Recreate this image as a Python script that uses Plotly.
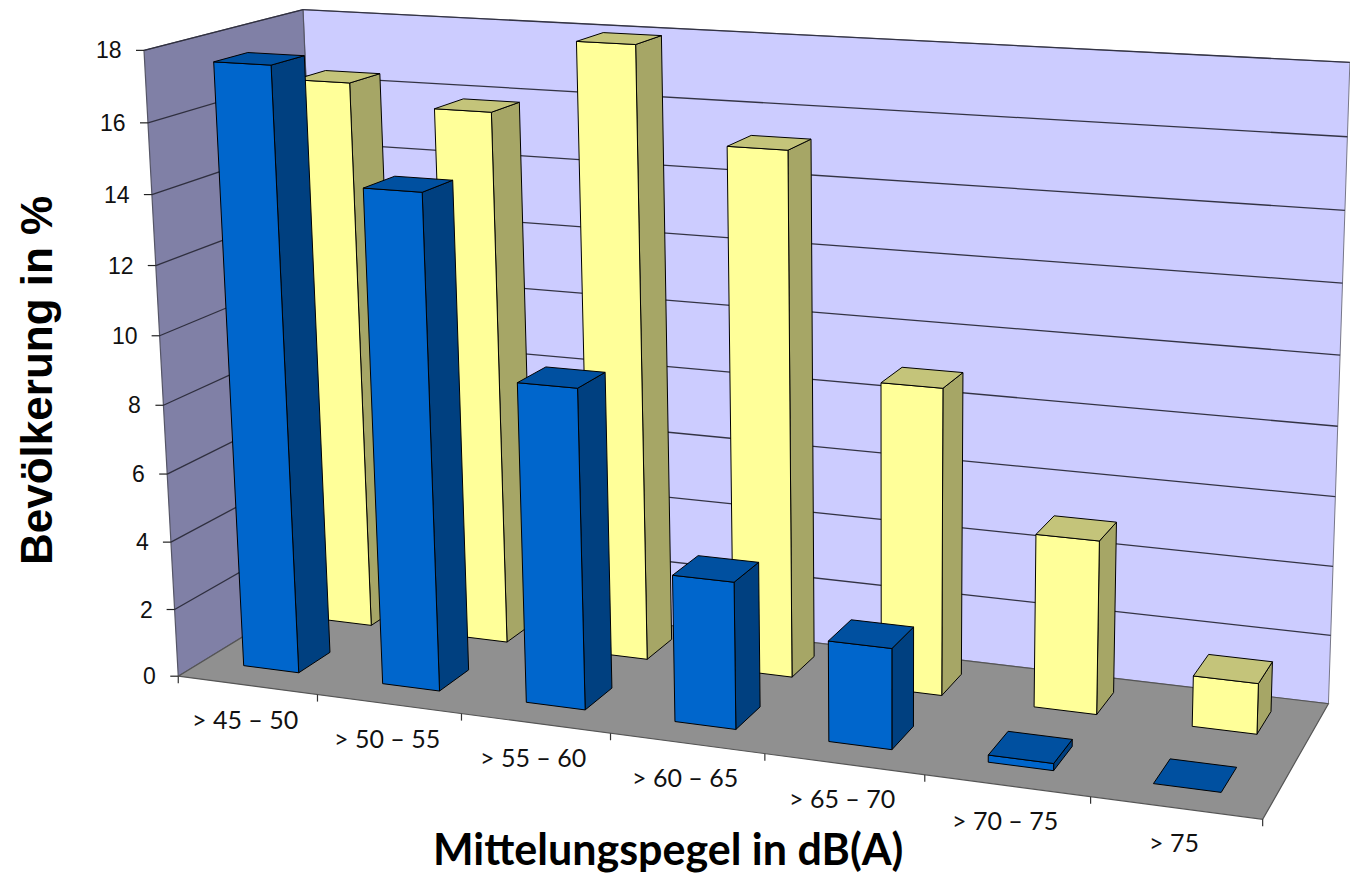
import numpy as np
import plotly.graph_objects as go

# ---- data ----
categories = ["> 45 – 50", "> 50 – 55", "> 55 – 60", "> 60 – 65", "> 65 – 70", "> 70 – 75", "> 75"]
blue_values = [17.55, 14.3, 9.2, 4.2, 2.85, 0.2, 0.0]
yellow_values = [16.4, 15.8, 17.95, 15.25, 8.9, 5.0, 1.45]
z_ticks = [0, 2, 4, 6, 8, 10, 12, 14, 16, 18]
x_title = "Mittelungspegel in dB(A)"
y_title = "Bevölkerung in %"

# ---- the chart's box: world corner -> picture position, fitted to one projective camera ----
frame_world = [(0, 0, 0), (7, 0, 0), (7, 1, 0), (0, 1, 0), (0, 0, 18), (0, 1, 18), (7, 1, 18)]
frame_pixel = [(177, 675), (1263, 820), (1328, 703), (329, 586), (145, 51), (302, 9), (1350, 62.5)]
rows = []
for (a, b, c), (px, py) in zip(frame_world, frame_pixel):
    h = [a, b, c, 1]
    rows.append(h + [0, 0, 0, 0] + [-px * t for t in h])
    rows.append([0, 0, 0, 0] + h + [-py * t for t in h])
CAM = np.linalg.svd(np.array(rows, float))[2][-1].reshape(3, 4)


def project(u, v, z):
    p = CAM @ np.array([u, v, z, 1.0])
    return p[0] / p[2], p[1] / p[2]


BAR_W = 0.40
BAR_C = 0.492
ROWS = {"blue": (0.16, 0.37), "yellow": (0.66, 0.87)}
COL = {
    "blue": ("#0066CC", "#004080", "#0050A0"),
    "yellow": ("#FFFF99", "#A6A666", "#C4C47A"),
}

fig = go.Figure()


def poly(corners, fill, line="#000000", lw=1):
    pts = [project(*c) for c in corners]
    xs = [p[0] for p in pts] + [pts[0][0]]
    ys = [p[1] for p in pts] + [pts[0][1]]
    fig.add_trace(go.Scatter(x=xs, y=ys, mode="lines", fill="toself", fillcolor=fill,
                             line=dict(color=line, width=lw), hoverinfo="skip", showlegend=False))


def seg(a, b, color="#333333", lw=1.2):
    pa, pb = project(*a), project(*b)
    fig.add_trace(go.Scatter(x=[pa[0], pb[0]], y=[pa[1], pb[1]], mode="lines",
                             line=dict(color=color, width=lw), hoverinfo="skip", showlegend=False))


# walls and floor
poly([(0, 1, 0), (7, 1, 0), (7, 1, 18), (0, 1, 18)], "#CCCCFF", "#777788", 1)
poly([(0, 0, 0), (0, 1, 0), (0, 1, 18), (0, 0, 18)], "#8080A6", "#555566", 1.2)
poly([(0, 0, 0), (7, 0, 0), (7, 1, 0), (0, 1, 0)], "#909090", "#555555", 1.2)

# gridlines
for t in z_ticks[1:]:
    seg((0, 0, t), (0, 1, t), "#2f2f3f", 1.3)
    seg((0, 1, t), (7, 1, t), "#333344", 1.3)


def bar(i, val, kind):
    u0, u1 = i + BAR_C - BAR_W / 2, i + BAR_C + BAR_W / 2
    v0, v1 = ROWS[kind]
    front, side, top = COL[kind]
    if val > 0:
        poly([(u1, v0, 0), (u1, v1, 0), (u1, v1, val), (u1, v0, val)], side)
        poly([(u0, v0, 0), (u1, v0, 0), (u1, v0, val), (u0, v0, val)], front)
    poly([(u0, v0, val), (u1, v0, val), (u1, v1, val), (u0, v1, val)], top)


for i, val in enumerate(yellow_values):
    bar(i, val, "yellow")
for i, val in enumerate(blue_values):
    bar(i, val, "blue")

# ticks and their labels
annos = []
for t in z_ticks:
    px, py = project(0, 0, t)
    fig.add_trace(go.Scatter(x=[px - 8, px], y=[py, py], mode="lines", line=dict(color="#222222", width=1.2),
                             hoverinfo="skip", showlegend=False))
    annos.append(dict(x=px - 20, y=py, text=str(t), xanchor="right", yanchor="middle", showarrow=False,
                      font=dict(family="Liberation Sans", size=23, color="#111111")))
for k in range(len(categories) + 1):
    px, py = project(k, 0, 0)
    fig.add_trace(go.Scatter(x=[px, px], y=[py, py + 7], mode="lines", line=dict(color="#333333", width=1.2),
                             hoverinfo="skip", showlegend=False))
for k, name in enumerate(categories):
    px, py = project(k + 0.5, 0, 0)
    annos.append(dict(x=px - 2, y=py + 34, text=name, xanchor="center", yanchor="middle", showarrow=False,
                      font=dict(family="Lato", size=25, color="#111111")))

annos.append(dict(x=668, y=848, text=f"<b>{x_title}</b>", xanchor="center", yanchor="middle", showarrow=False,
                  font=dict(family="Lato", size=43, color="#000000")))
annos.append(dict(x=36, y=381, text=f"<b>{y_title}</b>", textangle=-90, xanchor="center", yanchor="middle",
                  showarrow=False, font=dict(family="Liberation Sans", size=44, color="#000000")))

fig.update_layout(
    width=1350, height=875, margin=dict(l=0, r=0, t=0, b=0),
    paper_bgcolor="white", plot_bgcolor="white", showlegend=False, annotations=annos,
    xaxis=dict(range=[0, 1350], visible=False, fixedrange=True),
    yaxis=dict(range=[875, 0], visible=False, fixedrange=True),
)
fig.write_html("out.html", post_script="document.body.style.margin='0';",
               config={"displayModeBar": False})
